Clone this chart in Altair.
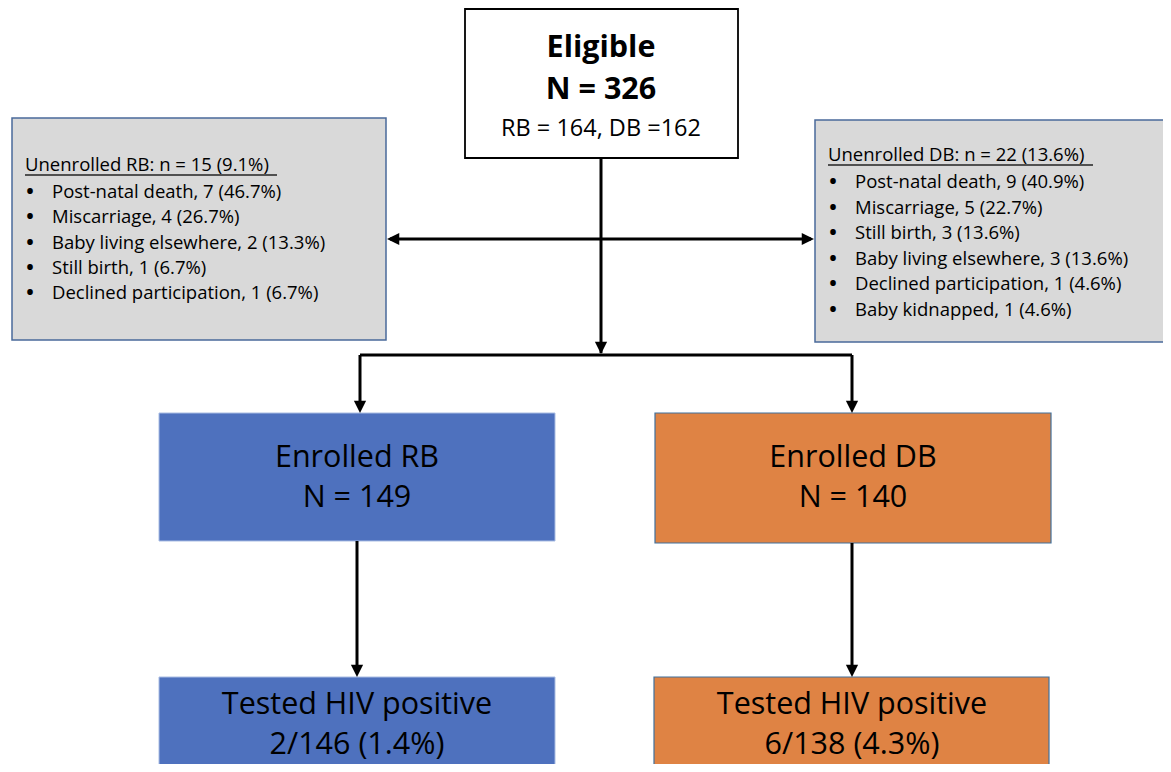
import altair as alt
import pandas as pd

# ---------------- content ----------------
eligible_n = 326
eligible_rb = 164
eligible_db = 162

unenrolled_rb_n = 15
unenrolled_rb_pct = "9.1%"
rb_reasons = ["Post-natal death", "Miscarriage", "Baby living elsewhere", "Still birth", "Declined participation"]
rb_counts = [7, 4, 2, 1, 1]
rb_pcts = ["46.7%", "26.7%", "13.3%", "6.7%", "6.7%"]

unenrolled_db_n = 22
unenrolled_db_pct = "13.6%"
db_reasons = ["Post-natal death", "Miscarriage", "Still birth", "Baby living elsewhere", "Declined participation", "Baby kidnapped"]
db_counts = [9, 5, 3, 3, 1, 1]
db_pcts = ["40.9%", "22.7%", "13.6%", "13.6%", "4.6%", "4.6%"]

enrolled_rb = 149
enrolled_db = 140
hiv_rb = "2/146 (1.4%)"
hiv_db = "6/138 (4.3%)"

FONT = "Open Sans"
BLUE = "#4e71be"
ORANGE = "#df8344"
GREY = "#d9d9d9"

# ---------------- layout (pixel space of the figure) ----------------
boxes = pd.DataFrame([
    dict(id="elig", x1=465, x2=738, y1=9, y2=158, fill="#ffffff", stroke="#000000", sw=1.8),
    dict(id="unrb", x1=12, x2=386, y1=118, y2=340, fill=GREY, stroke="#4a6a9a", sw=1.5),
    dict(id="undb", x1=815, x2=1167, y1=120, y2=342, fill=GREY, stroke="#4a6a9a", sw=1.5),
    dict(id="enrb", x1=159, x2=555, y1=413, y2=541, fill=BLUE, stroke="#a9bde3", sw=1.0),
    dict(id="endb", x1=655, x2=1051, y1=413, y2=543, fill=ORANGE, stroke="#41719c", sw=1.2),
    dict(id="hvrb", x1=159, x2=555, y1=677, y2=800, fill=BLUE, stroke="#a9bde3", sw=1.0),
    dict(id="hvdb", x1=654, x2=1049, y1=677, y2=800, fill=ORANGE, stroke="#41719c", sw=1.2),
])
B = boxes.set_index("id")

cx_main = 601
x_left = 360
x_right = 852
y_split = 355
y_side = 239

lines = pd.DataFrame([
    dict(x1=cx_main, x2=cx_main, y1=B.loc["elig", "y2"], y2=y_split - 2),
    dict(x1=B.loc["unrb", "x2"] + 4, x2=B.loc["undb", "x1"] - 4, y1=y_side, y2=y_side),
    dict(x1=x_left, x2=x_right, y1=y_split, y2=y_split),
    dict(x1=x_left, x2=x_left, y1=y_split, y2=B.loc["enrb", "y1"] - 4),
    dict(x1=x_right, x2=x_right, y1=y_split, y2=B.loc["endb", "y1"] - 4),
    dict(x1=357, x2=357, y1=B.loc["enrb", "y2"], y2=B.loc["hvrb", "y1"] - 4),
    dict(x1=852, x2=852, y1=B.loc["endb", "y2"], y2=B.loc["hvdb", "y1"] - 4),
])

DOWN = "M-1,-2L1,-2L0,0Z"
LEFT = "M2,-1L2,1L0,0Z"
RIGHT = "M-2,-1L-2,1L0,0Z"
heads = pd.DataFrame([
    dict(x=cx_main, y=y_split - 1, shape=DOWN),
    dict(x=B.loc["unrb", "x2"] + 1, y=y_side, shape=LEFT),
    dict(x=B.loc["undb", "x1"] - 1, y=y_side, shape=RIGHT),
    dict(x=x_left, y=B.loc["enrb", "y1"], shape=DOWN),
    dict(x=x_right, y=B.loc["endb", "y1"], shape=DOWN),
    dict(x=357, y=B.loc["hvrb", "y1"], shape=DOWN),
    dict(x=852, y=B.loc["hvdb", "y1"], shape=DOWN),
])

texts = []
def add(x, y, t, size, weight="normal", align="center"):
    texts.append(dict(x=x, y=y, t=t, size=size, weight=weight, align=align))

SMALL = 18.5
BIG = 30.5
add(cx_main, 48, "Eligible", 30.5, "bold")
add(cx_main, 90, f"N = {eligible_n}", 30.5, "bold")
add(cx_main, 129, f"RB = {eligible_rb}, DB ={eligible_db}", 23.5)

add(25, 165, f"Unenrolled RB: n = {unenrolled_rb_n} ({unenrolled_rb_pct})", SMALL, align="left")
for i, (r, c, p) in enumerate(zip(rb_reasons, rb_counts, rb_pcts)):
    yy = 192 + i * 25.3
    add(30, yy, "•", 20, "bold")
    add(52, yy, f"{r}, {c} ({p})", SMALL, align="left")

add(828, 155, f"Unenrolled DB: n = {unenrolled_db_n} ({unenrolled_db_pct})", SMALL, align="left")
for i, (r, c, p) in enumerate(zip(db_reasons, db_counts, db_pcts)):
    yy = 182 + i * 25.5
    add(833, yy, "•", 20, "bold")
    add(855, yy, f"{r}, {c} ({p})", SMALL, align="left")

add(357, 458, "Enrolled RB", BIG)
add(357, 498, f"N = {enrolled_rb}", BIG)
add(853, 458, "Enrolled DB", BIG)
add(853, 498, f"N = {enrolled_db}", BIG)
add(357, 705, "Tested HIV positive", BIG)
add(357, 745, hiv_rb, BIG)
add(852, 705, "Tested HIV positive", BIG)
add(852, 745, hiv_db, BIG)
tdf = pd.DataFrame(texts)

underlines = pd.DataFrame([
    dict(x1=25, x2=277, y1=175, y2=175),
    dict(x1=828, x2=1093, y1=165, y2=165),
])

W, H = 1155, 756
xs = alt.Scale(domain=[8, 8 + W], nice=False, zero=False)
ys = alt.Scale(domain=[8, 8 + H], nice=False, zero=False, reverse=True)
X = lambda f: alt.X(f, type="quantitative", scale=xs, axis=None)
Y = lambda f: alt.Y(f, type="quantitative", scale=ys, axis=None)

rects = alt.Chart(boxes).mark_rect().encode(
    x=X("x1"), x2="x2", y=Y("y1"), y2="y2",
    fill=alt.Fill("fill:N", scale=None),
    stroke=alt.Stroke("stroke:N", scale=None),
    strokeWidth=alt.StrokeWidth("sw:Q", scale=None),
)

rules = alt.Chart(lines).mark_rule(color="black", strokeWidth=3).encode(
    x=X("x1"), x2="x2", y=Y("y1"), y2="y2"
)

ul = alt.Chart(underlines).mark_rule(color="#222222", strokeWidth=1.3).encode(
    x=X("x1"), x2="x2", y=Y("y1"), y2="y2"
)

arrows = alt.Chart(heads).mark_point(filled=True, color="black", opacity=1, size=150, strokeWidth=0).encode(
    x=X("x"), y=Y("y"), shape=alt.Shape("shape:N", scale=None)
)

layers = [rects, rules, ul, arrows]
for (al, wt), g in tdf.groupby(["align", "weight"]):
    for sz, gg in g.groupby("size"):
        layers.append(
            alt.Chart(gg).mark_text(
                font=FONT, fontSize=float(sz), fontWeight=wt, align=al,
                baseline="middle", color="#000000"
            ).encode(x=X("x"), y=Y("y"), text="t:N")
        )

chart = alt.layer(*layers).properties(
    width=W, height=H, padding=0, autosize=alt.AutoSizeParams(type="none"),
    view=alt.ViewBackground(stroke="transparent", strokeWidth=0, strokeOpacity=0),
).configure_view(strokeWidth=0, stroke="transparent", strokeOpacity=0).configure(background="white")

chart.save("out.html", embed_options={"renderer": "svg", "actions": False})
